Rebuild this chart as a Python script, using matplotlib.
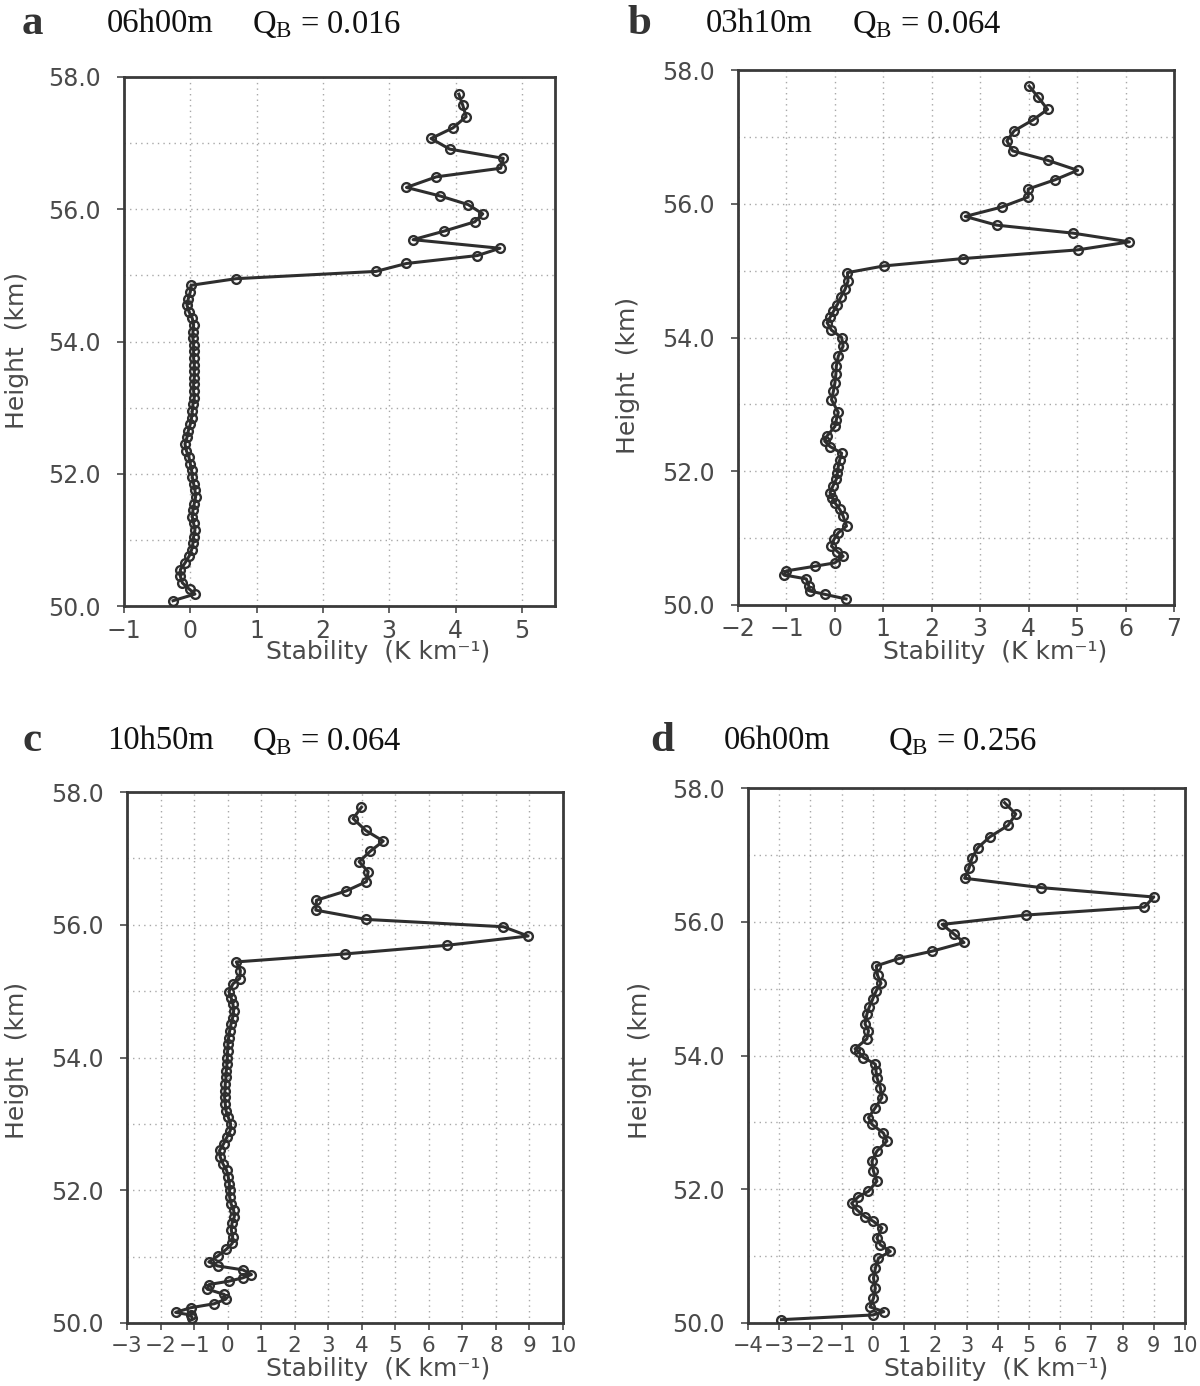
import matplotlib
matplotlib.use("Agg")
import matplotlib.pyplot as plt
from matplotlib.ticker import MultipleLocator, FormatStrFormatter

plt.rcParams['mathtext.fontset'] = 'custom'
plt.rcParams['mathtext.rm'] = 'Liberation Serif'
plt.rcParams['mathtext.it'] = 'Liberation Serif:italic'

# ---------------- data ----------------
a_height = [57.74, 57.57, 57.40, 57.23, 57.07, 56.91, 56.77, 56.62, 56.49, 56.33,
            56.20, 56.07, 55.93, 55.81, 55.67, 55.54, 55.41, 55.30, 55.18, 55.06,
            54.95, 54.85, 54.75, 54.65, 54.55, 54.45, 54.35, 54.25, 54.15, 54.05,
            53.95, 53.85, 53.75, 53.65, 53.55, 53.45, 53.35, 53.25, 53.15, 53.05,
            52.95, 52.85, 52.75, 52.65, 52.55, 52.45, 52.35, 52.25, 52.15, 52.05,
            51.95, 51.85, 51.75, 51.65, 51.55, 51.45, 51.35, 51.25, 51.15, 51.05,
            50.95, 50.85, 50.75, 50.65, 50.55, 50.45, 50.35, 50.25, 50.18, 50.08]
a_stab = [4.05, 4.11, 4.16, 3.96, 3.63, 3.91, 4.72, 4.68, 3.71, 3.26,
          3.77, 4.19, 4.41, 4.29, 3.83, 3.36, 4.67, 4.33, 3.26, 2.80,
          0.69, 0.01, 0.00, -0.03, -0.05, -0.02, 0.03, 0.05, 0.04, 0.04,
          0.05, 0.05, 0.05, 0.06, 0.06, 0.06, 0.05, 0.05, 0.06, 0.04,
          0.03, 0.02, 0.00, -0.03, -0.05, -0.08, -0.06, -0.02, 0.00, 0.02,
          0.03, 0.05, 0.07, 0.08, 0.06, 0.04, 0.03, 0.05, 0.07, 0.05,
          0.04, 0.02, -0.02, -0.08, -0.15, -0.15, -0.12, -0.01, 0.07, -0.26]

b_height = [57.76, 57.59, 57.41, 57.25, 57.09, 56.94, 56.79, 56.65, 56.50, 56.36,
            56.22, 56.10, 55.95, 55.81, 55.68, 55.56, 55.43, 55.31, 55.18, 55.07,
            54.97, 54.84, 54.72, 54.60, 54.49, 54.39, 54.30, 54.22, 54.11, 54.00,
            53.87, 53.72, 53.57, 53.45, 53.32, 53.20, 53.07, 52.88, 52.77, 52.67,
            52.52, 52.45, 52.37, 52.27, 52.17, 52.07, 51.97, 51.88, 51.78, 51.68,
            51.60, 51.53, 51.43, 51.33, 51.18, 51.08, 50.98, 50.88, 50.80, 50.73,
            50.63, 50.58, 50.51, 50.45, 50.39, 50.29, 50.21, 50.16, 50.09]
b_stab = [4.01, 4.20, 4.39, 4.08, 3.70, 3.55, 3.67, 4.39, 5.01, 4.55,
          3.99, 3.99, 3.44, 2.69, 3.34, 4.92, 6.08, 5.01, 2.64, 1.01,
          0.26, 0.27, 0.21, 0.12, 0.05, -0.03, -0.10, -0.16, -0.07, 0.14,
          0.17, 0.07, 0.03, 0.02, 0.00, -0.03, -0.07, 0.07, 0.03, 0.00,
          -0.17, -0.21, -0.10, 0.14, 0.10, 0.07, 0.05, 0.03, -0.04, -0.10,
          -0.05, 0.00, 0.10, 0.17, 0.24, 0.07, -0.02, -0.07, 0.05, 0.17,
          0.00, -0.41, -1.00, -1.05, -0.59, -0.54, -0.52, -0.21, 0.23]

c_height = [57.77, 57.60, 57.42, 57.26, 57.11, 56.95, 56.80, 56.65, 56.51, 56.37,
            56.22, 56.08, 55.97, 55.83, 55.69, 55.56, 55.44, 55.31, 55.19, 55.11,
            54.99, 54.89, 54.80, 54.70, 54.60, 54.50, 54.40, 54.30, 54.20, 54.10,
            54.00, 53.90, 53.80, 53.70, 53.60, 53.50, 53.40, 53.30, 53.20, 53.10,
            53.00, 52.90, 52.80, 52.70, 52.60, 52.50, 52.40, 52.30, 52.20, 52.10,
            52.00, 51.90, 51.80, 51.70, 51.60, 51.50, 51.40, 51.30, 51.20, 51.11,
            51.01, 50.92, 50.86, 50.80, 50.73, 50.68, 50.63, 50.58, 50.51, 50.43,
            50.36, 50.29, 50.23, 50.16, 50.12, 50.07]
c_stab = [3.99, 3.74, 4.12, 4.64, 4.26, 3.92, 4.19, 4.14, 3.54, 2.65,
          2.63, 4.14, 8.22, 8.96, 6.53, 3.49, 0.26, 0.38, 0.36, 0.16,
          0.04, 0.11, 0.16, 0.18, 0.15, 0.10, 0.06, 0.03, 0.01, 0.00,
          -0.01, -0.02, -0.04, -0.05, -0.07, -0.08, -0.09, -0.07, -0.05, 0.02,
          0.09, 0.08, -0.02, -0.12, -0.24, -0.22, -0.14, -0.03, 0.02, 0.05,
          0.06, 0.06, 0.10, 0.18, 0.20, 0.13, 0.11, 0.15, 0.14, -0.04,
          -0.29, -0.56, -0.30, 0.46, 0.71, 0.45, 0.04, -0.55, -0.60, -0.10,
          -0.05, -0.40, -1.10, -1.55, -1.10, -1.05]

d_height = [57.78, 57.61, 57.44, 57.27, 57.11, 56.96, 56.80, 56.65, 56.51, 56.37,
            56.22, 56.10, 55.96, 55.82, 55.69, 55.56, 55.45, 55.34, 55.20, 55.08,
            54.97, 54.85, 54.72, 54.62, 54.47, 54.37, 54.25, 54.10, 54.05, 53.97,
            53.87, 53.77, 53.67, 53.52, 53.37, 53.22, 53.07, 52.97, 52.84, 52.72,
            52.57, 52.42, 52.27, 52.12, 51.97, 51.89, 51.79, 51.69, 51.59, 51.52,
            51.42, 51.27, 51.17, 51.07, 50.97, 50.82, 50.67, 50.52, 50.37, 50.24,
            50.17, 50.12, 50.05]
d_stab = [4.22, 4.58, 4.33, 3.75, 3.37, 3.18, 3.08, 2.94, 5.40, 9.00,
          8.70, 4.90, 2.22, 2.59, 2.92, 1.90, 0.83, 0.11, 0.15, 0.26,
          0.11, 0.00, -0.12, -0.19, -0.25, -0.14, -0.19, -0.57, -0.45, -0.30,
          0.08, 0.10, 0.13, 0.24, 0.29, 0.08, -0.14, -0.03, 0.34, 0.45,
          0.13, -0.03, 0.02, 0.13, -0.14, -0.46, -0.68, -0.51, -0.25, 0.02,
          0.29, 0.13, 0.24, 0.56, 0.18, 0.08, 0.02, 0.08, 0.02, -0.09,
          0.35, 0.00, -2.93]

letters = ['a', 'b', 'c', 'd']
times = ['06h00m', '03h10m', '10h50m', '06h00m']
qb = ['0.016', '0.064', '0.064', '0.256']
xlims = [(-1, 5.5), (-2, 7), (-3, 10), (-4, 10)]
heights = [a_height, b_height, c_height, d_height]
stabs = [a_stab, b_stab, c_stab, d_stab]

# ---------------- layout ----------------
W, H = 1200, 1386
fig = plt.figure(figsize=(W / 100, H / 100), dpi=100)
fig.patch.set_facecolor('white')

# axes boxes in pixels: left, right, top, bottom
boxes = [(124, 555, 77, 606), (738, 1174, 70, 605),
         (127, 563, 792, 1323), (748, 1185, 788, 1323)]
letter_pos = [(22, 24), (628, 24), (22, 741), (650, 741)]
time_pos = [(107, 24), (706, 24), (107, 741), (724, 741)]
q_pos = [(252, 24), (852, 24), (252, 741), (888, 741)]
ylab_pos = [(17, 350), (628, 375), (17, 1060), (640, 1060)]
xlab_pos = [(378, 652), (995, 652), (378, 1369), (996, 1369)]
xtick_size = [17, 17, 15.5, 15]

tick_col = '#4a4a4a'
for i in range(4):
    l, r, t, b = boxes[i]
    ax = fig.add_axes([l / W, 1 - b / H, (r - l) / W, (b - t) / H])
    ax.plot(stabs[i], heights[i], '-', color='#2e2e2e', lw=2.2,
            marker='o', ms=6.3, mfc='none', mec='#2e2e2e', mew=1.7, zorder=3)
    ax.set_xlim(*xlims[i])
    ax.set_ylim(50, 58)
    ax.xaxis.set_major_locator(MultipleLocator(1))
    ax.yaxis.set_major_locator(MultipleLocator(2))
    ax.yaxis.set_minor_locator(MultipleLocator(1))
    ax.yaxis.set_major_formatter(FormatStrFormatter('%.1f'))
    ax.grid(True, which='both', color='#a8a8a8', lw=1.0, ls=(0, (1, 3)))
    ax.tick_params(axis='both', which='major', labelsize=17, colors=tick_col,
                   length=5, width=1.2, direction='out')
    ax.tick_params(axis='x', labelsize=xtick_size[i], pad=4)
    ax.tick_params(axis='y', which='minor', length=0)
    ax.tick_params(axis='y', pad=12)
    for lab in ax.get_xticklabels() + ax.get_yticklabels():
        lab.set_fontfamily('DejaVu Sans')
    for s in ax.spines.values():
        s.set_color('#3a3a3a')
        s.set_linewidth(2.0)

    fig.text(letter_pos[i][0] / W, 1 - letter_pos[i][1] / H, letters[i],
             fontsize=31, fontweight='bold', family='Liberation Serif',
             color='#333333', ha='left', va='center')
    fig.text(time_pos[i][0] / W, 1 - time_pos[i][1] / H, times[i],
             fontsize=23.5, family='Liberation Serif', color='#111111',
             ha='left', va='center')
    fig.text(q_pos[i][0] / W, 1 - q_pos[i][1] / H,
             r'Q$_{\mathrm{B}}$ = ' + qb[i],
             fontsize=23.5, family='Liberation Serif', color='#111111',
             ha='left', va='center')
    fig.text(ylab_pos[i][0] / W, 1 - ylab_pos[i][1] / H, 'Height  (km)',
             fontsize=18, family='DejaVu Sans', color=tick_col,
             rotation=90, ha='center', va='center')
    fig.text(xlab_pos[i][0] / W, 1 - xlab_pos[i][1] / H,
             'Stability  (K km\u207b\u00b9)',
             fontsize=18, family='DejaVu Sans', color=tick_col,
             ha='center', va='center')

fig.savefig('out.png', dpi=100, facecolor='white')
